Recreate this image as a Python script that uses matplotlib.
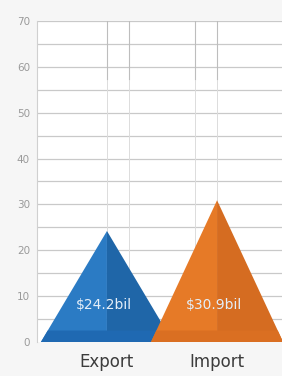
import numpy as np
import matplotlib
matplotlib.use('Agg')
import matplotlib.pyplot as plt
from matplotlib.patches import Polygon

categories = ['Export', 'Import']
values = [24.2, 30.9]
value_labels = ['$24.2bil', '$30.9bil']
yticks = [0, 10, 20, 30, 40, 50, 60, 70]

light = ['#2b7bc4', '#e67a27']
dark = ['#1f66a8', '#d56c21']
band = ['#1f69b2', '#da6f22']

F = plt.figure(figsize=(2.82, 3.76), dpi=100)
F.patch.set_facecolor('#f6f6f6')
ax = F.add_axes([0.131, 0.0904, 0.869, 0.854])
ax.set_facecolor('white')

ax.set_xlim(-0.636, 1.59)
ax.set_ylim(0, 70)

# grid: every 5 units
for g in np.arange(5, 71, 5):
    ax.axhline(g, color='#c9c9c9', lw=0.9, zorder=0)
# faint vertical guides around the peaks
for x in [0, 0.2, 0.8, 1.0]:
    ax.axvline(x, color='#dcdcdc', lw=0.7, zorder=0)
    ax.axvline(x, ymin=0.82, ymax=1.0, color='#bdbdbd', lw=0.8, zorder=0)

w = 0.6
for i, v in enumerate(values):
    c = i
    bh = 2.5
    # left (lit) face
    ax.add_patch(Polygon([[c - w, 0], [c, v], [c, 0]], closed=True,
                         facecolor=light[i], edgecolor='none', zorder=2 + i))
    # right (shaded) face
    ax.add_patch(Polygon([[c, 0], [c, v], [c + w, 0]], closed=True,
                         facecolor=dark[i], edgecolor='none', zorder=2 + i))
    # front bottom band
    f = bh / v
    ax.add_patch(Polygon([[c - w, 0], [c - w * (1 - f), bh], [c + w * (1 - f), bh], [c + w, 0]],
                         closed=True, facecolor=band[i], edgecolor='none', zorder=2 + i))
    ax.text(c - 0.03, 8, value_labels[i], color='#e4eef8', fontsize=10,
            ha='center', va='center', zorder=5)

ax.set_yticks(yticks)
ax.set_yticklabels([str(t) for t in yticks], fontsize=7.5, color='#9a9a9a')
ax.tick_params(axis='y', length=0, pad=5)
ax.set_xticks(range(len(categories)))
ax.set_xticklabels(categories, fontsize=12, color='#3c3c3c')
ax.tick_params(axis='x', length=0, pad=8)

for s in ['top', 'right', 'bottom']:
    ax.spines[s].set_visible(False)
ax.spines['left'].set_color('#d0d0d0')
ax.spines['left'].set_linewidth(0.8)

F.savefig('out.png', dpi=100, facecolor=F.get_facecolor())
